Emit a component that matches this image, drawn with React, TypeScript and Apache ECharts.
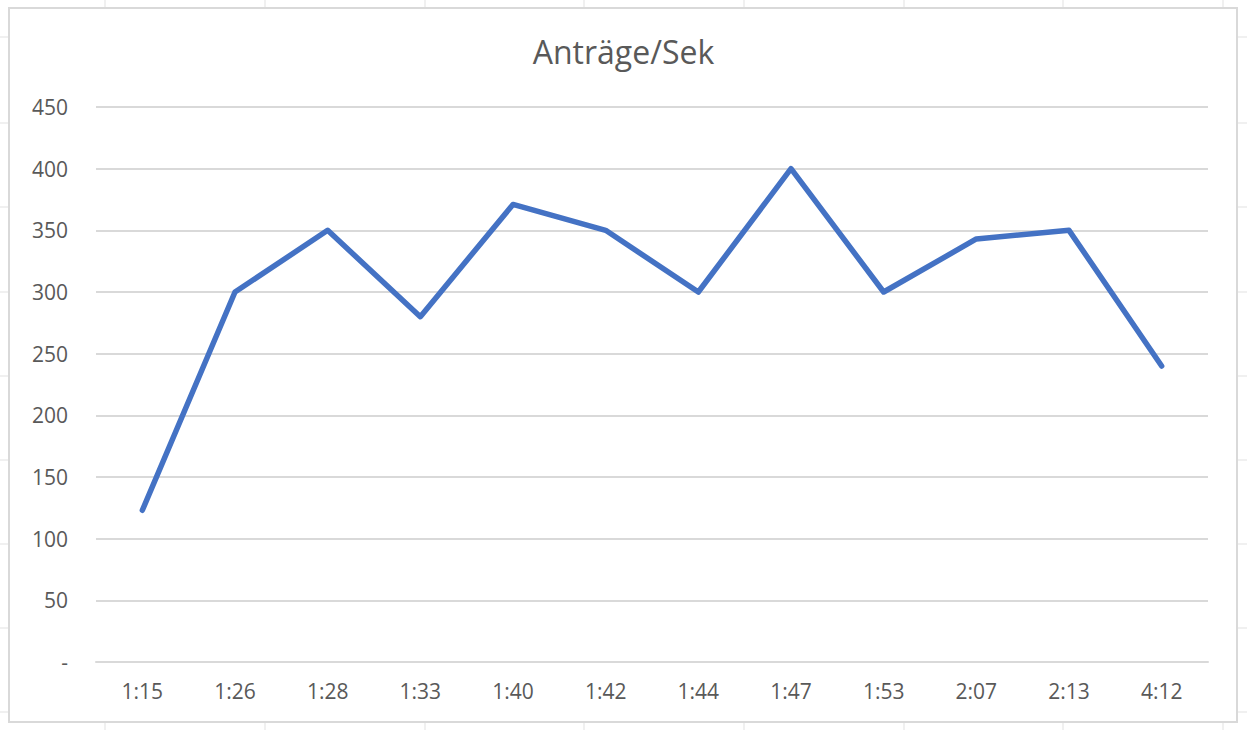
import React, { useEffect, useRef } from "react";
import * as echarts from "echarts";

const categories = ["1:15", "1:26", "1:28", "1:33", "1:40", "1:42", "1:44", "1:47", "1:53", "2:07", "2:13", "4:12"];
const values = [123, 300, 350, 280, 371, 350, 300, 400, 300, 343, 350, 240];
const yTicks = { min: 0, max: 450, interval: 50 };
const sheetCols = [105, 265, 425, 584, 744, 904, 1063, 1223];
const sheetRows = [37, 123, 207, 292, 376, 460, 544, 628, 712];

export default function App() {
  const ref = useRef<HTMLDivElement>(null);
  useEffect(() => {
    document.body.style.margin = "0";
    const chart = echarts.init(ref.current!, null, { renderer: "svg" });
    const sheetLines: any[] = [];
    sheetCols.forEach((x) => {
      sheetLines.push({ type: "line", shape: { x1: x, y1: 0, x2: x, y2: 7 }, style: { stroke: "#e1e1e1", lineWidth: 1 }, silent: true });
      sheetLines.push({ type: "line", shape: { x1: x, y1: 723, x2: x, y2: 730 }, style: { stroke: "#e1e1e1", lineWidth: 1 }, silent: true });
    });
    sheetRows.forEach((y) => {
      sheetLines.push({ type: "line", shape: { x1: 0, y1: y, x2: 8, y2: y }, style: { stroke: "#e1e1e1", lineWidth: 1 }, silent: true });
      sheetLines.push({ type: "line", shape: { x1: 1238, y1: y, x2: 1247, y2: y }, style: { stroke: "#e1e1e1", lineWidth: 1 }, silent: true });
    });
    chart.setOption({
      animation: false,
      backgroundColor: "#ffffff",
      title: {
        text: "Anträge/Sek",
        left: "center",
        top: 30,
        textStyle: { fontFamily: "Open Sans", fontSize: 32, fontWeight: "normal", color: "#595959" },
      },
      graphic: [
        ...sheetLines,
        { type: "rect", shape: { x: 9, y: 8, width: 1228, height: 714 }, style: { fill: "none", stroke: "#d9d9d9", lineWidth: 2 }, silent: true },
      ],
      grid: { left: 96, right: 39, top: 107, bottom: 68, containLabel: false },
      xAxis: {
        type: "category",
        data: categories,
        boundaryGap: true,
        axisLine: { lineStyle: { color: "#d9d9d9", width: 2 } },
        axisTick: { show: false },
        axisLabel: { color: "#595959", fontFamily: "Open Sans", fontSize: 21, margin: 18 },
      },
      yAxis: {
        type: "value",
        min: yTicks.min,
        max: yTicks.max,
        interval: yTicks.interval,
        axisLine: { show: false },
        axisTick: { show: false },
        splitLine: { lineStyle: { color: "#d9d9d9", width: 2 } },
        axisLabel: {
          color: "#595959",
          fontFamily: "Open Sans",
          fontSize: 21,
          margin: 28,
          formatter: (v: number) => (v === 0 ? "-" : String(v)),
        },
      },
      series: [
        {
          type: "line",
          data: values,
          showSymbol: false,
          symbol: "none",
          lineStyle: { color: "#4472C4", width: 5.5, join: "round", cap: "round" },
          itemStyle: { color: "#4472C4" },
        },
      ],
    });
    return () => chart.dispose();
  }, []);
  return <div ref={ref} style={{ width: 1247, height: 730 }} />;
}
